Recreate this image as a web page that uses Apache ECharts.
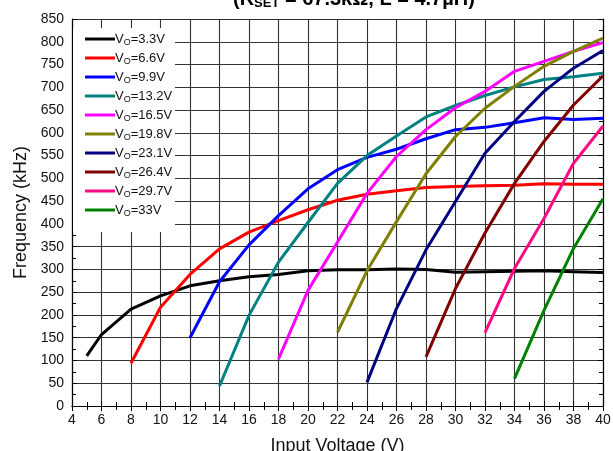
<!DOCTYPE html>
<html><head><meta charset="utf-8">
<script src="https://cdn.jsdelivr.net/npm/echarts@6/dist/echarts.min.js"></script>
<style>html,body{margin:0;padding:0;background:#fff;}#c{width:613px;height:451px;}</style>
</head><body><div id="c"></div>
<script>
const xTicks = [4,6,8,10,12,14,16,18,20,22,24,26,28,30,32,34,36,38,40];
const seriesNames = ['3.3V','6.6V','9.9V','13.2V','16.5V','19.8V','23.1V','26.4V','29.7V','33V'];
const colors = ['#000000','#ff0000','#0000ff','#008080','#ff00ff','#808000','#000080','#800000','#ff0a82','#008000'];
const vo33 = [[5,110],[6,157],[8,213],[10,242],[12,264],[14,275],[16,284],[18,289],[20,297],[22,299],[24,299],[26,301],[28,300],[30,294],[32,295],[34,296],[36,297],[38,295],[40,293]];
const vo66 = [[8,94],[10,217],[12,289],[14,345],[16,382],[18,407],[20,431],[22,452],[24,465],[26,473],[28,480],[30,482],[32,484],[34,485],[36,488],[38,487],[40,487]];
const vo99 = [[12,150],[14,273],[16,354],[18,418],[20,477],[22,519],[24,546],[26,564],[28,587],[30,607],[32,612],[34,622],[36,633],[38,629],[40,632]];
const vo132 = [[14,44],[16,199],[18,316],[20,403],[22,489],[24,550],[26,593],[28,635],[30,660],[32,682],[34,701],[36,717],[38,723],[40,731]];
const vo165 = [[18,103],[20,254],[22,360],[24,467],[26,548],[28,607],[30,655],[32,691],[34,735],[36,757],[38,779],[40,798]];
const vo198 = [[22,162],[24,297],[26,405],[28,510],[30,592],[32,654],[34,702],[36,746],[38,779],[40,808]];
const vo231 = [[24,52],[26,214],[28,343],[30,449],[32,555],[34,625],[36,691],[38,742],[40,781]];
const vo264 = [[28,108],[30,258],[32,380],[34,489],[36,581],[38,661],[40,725]];
const vo297 = [[32,161],[34,302],[36,412],[38,533],[40,615]];
const vo33v = [[34,60],[36,210],[38,346],[40,455]];
const allData = [vo33,vo66,vo99,vo132,vo165,vo198,vo231,vo264,vo297,vo33v];

const FONT = 'Liberation Sans, Arial, sans-serif';
const chart = echarts.init(document.getElementById('c'), null, {renderer:'canvas'});
const series = allData.map((d,i)=>({
  name: 'VO=' + seriesNames[i],
  type: 'line',
  data: d,
  showSymbol: false,
  symbol: 'none',
  lineStyle: {color: colors[i], width: 3},
  itemStyle: {color: colors[i]},
  z: 2,
  animation: false
}));
const baseAxis = {
  axisLine: {show: true, lineStyle: {color: '#000', width: 1.2}},
  axisTick: {show: true, inside: true, length: 5, lineStyle: {color: '#000'}},
  minorTick: {show: true, splitNumber: 2, length: 4, lineStyle: {color: '#000'}},
  splitLine: {show: true, lineStyle: {color: '#333', width: 1.1}},
  axisLabel: {color: '#111', fontFamily: FONT, fontSize: 14}
};
chart.setOption({
  animation: false,
  backgroundColor: '#fff',
  title: {
    text: '(R{s|SET} = 67.3kΩ, L = 4.7µH)',
    left: 228, top: -17,
    textStyle: {fontFamily: FONT, fontSize: 20, fontWeight: 'bold', color: '#000',
      rich: {s: {fontFamily: FONT, fontSize: 13, fontWeight: 'bold', verticalAlign: 'bottom', padding: [9,0,0,0]}}}
  },
  grid: {left: 72, right: 10, top: 19, bottom: 45, containLabel: false, outerBoundsMode: 'none'},
  legend: {
    orient: 'vertical', left: 80, top: 26,
    icon: 'rect', itemWidth: 30, itemHeight: 3, itemGap: 3,
    data: series.map(s=>s.name),
    formatter: function(n){ return 'V{s|O}' + n.slice(2); },
    textStyle: {fontFamily: FONT, fontSize: 13, color: '#111', padding: [0,0,0,-5], lineHeight: 16,
      rich: {s: {fontFamily: FONT, fontSize: 9, verticalAlign: 'bottom', padding: [6,0,0,0], color: '#111'}}},
    z: 5
  },
  graphic: [{type: 'rect', shape: {x: 73, y: 28, width: 102, height: 204}, style: {fill: '#fff'}, z: 3, silent: true}],
  xAxis: [
    Object.assign({}, baseAxis, {
      type: 'value', min: 4, max: 40, interval: 2, position: 'bottom',
      name: 'Input Voltage (V)', nameLocation: 'middle', nameGap: 31,
      nameTextStyle: {fontFamily: FONT, fontSize: 18, color: '#111'},
      axisLabel: {color: '#111', fontFamily: FONT, fontSize: 14, margin: 7,
        formatter: v => xTicks.includes(v) ? String(v) : ''}
    }),
    Object.assign({}, baseAxis, {
      type: 'value', min: 4, max: 40, interval: 2, position: 'top',
      axisLabel: {show: false}, splitLine: {show: false}
    })
  ],
  yAxis: [
    Object.assign({}, baseAxis, {
      type: 'value', min: 0, max: 850, interval: 50, position: 'left',
      name: 'Frequency (kHz)', nameLocation: 'middle', nameGap: 42,
      nameTextStyle: {fontFamily: FONT, fontSize: 18, color: '#111'},
      axisLabel: {color: '#111', fontFamily: FONT, fontSize: 14, margin: 8}
    }),
    Object.assign({}, baseAxis, {
      type: 'value', min: 0, max: 850, interval: 50, position: 'right',
      axisLabel: {show: false}, splitLine: {show: false}
    })
  ],
  series: series
});
</script></body></html>
